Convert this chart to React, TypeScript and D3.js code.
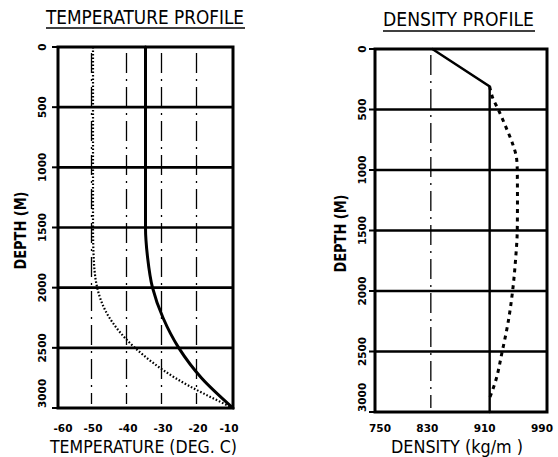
import * as d3 from "d3";

// depth axis (m) shared by both panels
const depthTicks = [0, 500, 1000, 1500, 2000, 2500, 3000];
const depthGrid = [500, 1000, 1500, 2000, 2500];

// temperature panel
const tempTicks = [-60, -50, -40, -30, -20, -10];
const tempGrid = [-50, -40, -30, -20];
const tempSolidDepth = [0, 500, 1000, 1500, 1750, 2000, 2250, 2500, 2750, 3000];
const tempSolidValue = [-35, -35, -35, -35, -34.4, -33, -30, -25.5, -19, -10];
const tempDotDepth = [0, 500, 1000, 1500, 1750, 2000, 2250, 2500, 2750, 3000];
const tempDotValue = [-50, -50, -50, -50, -49.8, -48.8, -45.3, -38, -26.5, -10];

// density panel
const densTicks = [750, 830, 910, 990];
const densGrid = [830];
const densSolidDepth = [0, 310, 3000];
const densSolidValue = [830, 910, 910];
const densDashDepth = [310, 400, 500, 650, 800, 900, 1000, 1250, 1500, 1750, 2000, 2250, 2500, 2750, 2900];
const densDashValue = [910, 914, 922, 933, 943, 947.5, 948.5, 948.8, 948.5, 946, 942, 936, 927.5, 918, 909];

const tickFont = "'DejaVu Sans', sans-serif";
const titleFont = "'DejaVu Sans Condensed', 'DejaVu Sans', sans-serif";

type PanelProps = {
  x0: number; x1: number; y0: number; y1: number;
  domain: [number, number];
  ticks: number[];
  grid: number[];
  tickShift: number;
  series: { depth: number[]; value: number[]; width: number; dash?: string; curve: d3.CurveFactory }[];
  title: string; titleX0: number; titleX1: number; titleY: number; underlineY: number;
  xLabel: string; xLabelX0: number; xLabelX1: number;
  yLabelX: number; yTickX: number;
};

function Panel(p: PanelProps) {
  const x = d3.scaleLinear().domain(p.domain).range([p.x0, p.x1]);
  const y = d3.scaleLinear().domain([0, 3000]).range([p.y0, p.y1]);
  const fmt = (v: number) => String(v).replace("−", "-");
  const yMid = (p.y0 + p.y1) / 2;
  return (
    <g>
      {/* title */}
      <text x={p.titleX0} y={p.titleY} textLength={p.titleX1 - p.titleX0} lengthAdjust="spacingAndGlyphs"
        fontFamily={titleFont} fontSize={19}>{p.title}</text>
      <line x1={p.titleX0} x2={p.titleX1 + 1} y1={p.underlineY} y2={p.underlineY} stroke="#000" strokeWidth={1.6} />

      {/* vertical dash-dot grid */}
      {p.grid.map((g) => (
        <line key={"vg" + g} x1={x(g) - 1.5} x2={x(g) - 1.5} y1={y(0) + 6} y2={y(3000) - 4}
          stroke="#000" strokeWidth={1.3} strokeDasharray="20,6,2,6" />
      ))}
      {/* horizontal grid */}
      {depthGrid.map((d) => (
        <line key={"hg" + d} x1={p.x0} x2={p.x1} y1={y(d)} y2={y(d)} stroke="#000" strokeWidth={2.6} />
      ))}

      {/* series */}
      {p.series.map((s, i) => {
        const pts = s.depth.map((d, k) => [s.value[k], d] as [number, number]);
        const path = d3.line<[number, number]>().x((q) => x(q[0])).y((q) => y(q[1])).curve(s.curve)(pts) || "";
        return <path key={i} d={path} fill="none" stroke="#000" strokeWidth={s.width}
          strokeDasharray={s.dash} strokeLinecap={s.dash ? "butt" : "round"} />;
      })}

      {/* frame */}
      <rect x={p.x0} y={p.y0} width={p.x1 - p.x0} height={p.y1 - p.y0} fill="none" stroke="#000" strokeWidth={3} />

      {/* left ticks and labels */}
      {depthTicks.map((d) => (
        <line key={"t" + d} x1={p.x0 - 6} x2={p.x0} y1={y(d)} y2={y(d)} stroke="#000" strokeWidth={2} />
      ))}
      {depthTicks.map((d, i) => {
        const last = i === depthTicks.length - 1;
        return (
          <text key={"yl" + d} transform={`translate(${p.yTickX},${y(d)}) rotate(-90)`}
            textAnchor={last ? "start" : "middle"} dominantBaseline="central"
            fontFamily={tickFont} fontWeight="bold" fontSize={10.5}>{d}</text>
        );
      })}
      <text transform={`translate(${p.yLabelX},${yMid + 3}) rotate(-90)`} textAnchor="middle" dominantBaseline="central"
        fontFamily={titleFont} fontWeight="bold" fontSize={16} textLength={78} lengthAdjust="spacingAndGlyphs">DEPTH (M)</text>

      {/* bottom labels */}
      {p.ticks.map((t, i) => {
        let tx = x(t) + p.tickShift;
        if (i === 0) tx = Math.max(tx, p.x0 + 5);
        if (i === p.ticks.length - 1) tx = Math.min(tx, p.x1 - 4);
        return (
          <text key={"xl" + t} x={tx} y={428} textAnchor="middle" dominantBaseline="central"
            fontFamily={tickFont} fontWeight="bold" fontSize={10.5}>{fmt(t)}</text>
        );
      })}
      <text x={p.xLabelX0} y={453} textLength={p.xLabelX1 - p.xLabelX0} lengthAdjust="spacingAndGlyphs"
        fontFamily={titleFont} fontSize={17}>{p.xLabel}</text>
    </g>
  );
}

export default function App() {
  return (
    <svg width={558} height={457} style={{ position: "absolute", left: 0, top: 0, background: "#fff" }}>
      <rect width={558} height={457} fill="#fff" />
      <Panel x0={58} x1={233} y0={47} y1={408} domain={[-60, -10]} ticks={tempTicks} grid={tempGrid} tickShift={0}
        series={[
          { depth: tempDotDepth, value: tempDotValue, width: 2.2, dash: "1.6,1.9", curve: d3.curveMonotoneY },
          { depth: tempSolidDepth, value: tempSolidValue, width: 3, curve: d3.curveMonotoneY },
        ]}
        title="TEMPERATURE PROFILE" titleX0={46} titleX1={244} titleY={24} underlineY={28}
        xLabel="TEMPERATURE (DEG. C)" xLabelX0={50} xLabelX1={237}
        yLabelX={20} yTickX={42} />
      <Panel x0={375} x1={547} y0={49} y1={412} domain={[750, 990]} ticks={densTicks} grid={densGrid} tickShift={-5}
        series={[
          { depth: densSolidDepth, value: densSolidValue, width: 2.4, curve: d3.curveLinear },
          { depth: densDashDepth, value: densDashValue, width: 3, dash: "4,4.5", curve: d3.curveMonotoneY },
        ]}
        title="DENSITY PROFILE" titleX0={383} titleX1={534} titleY={26} underlineY={31}
        xLabel="DENSITY (kg/m )" xLabelX0={391} xLabelX1={523}
        yLabelX={340} yTickX={362} />
    </svg>
  );
}
